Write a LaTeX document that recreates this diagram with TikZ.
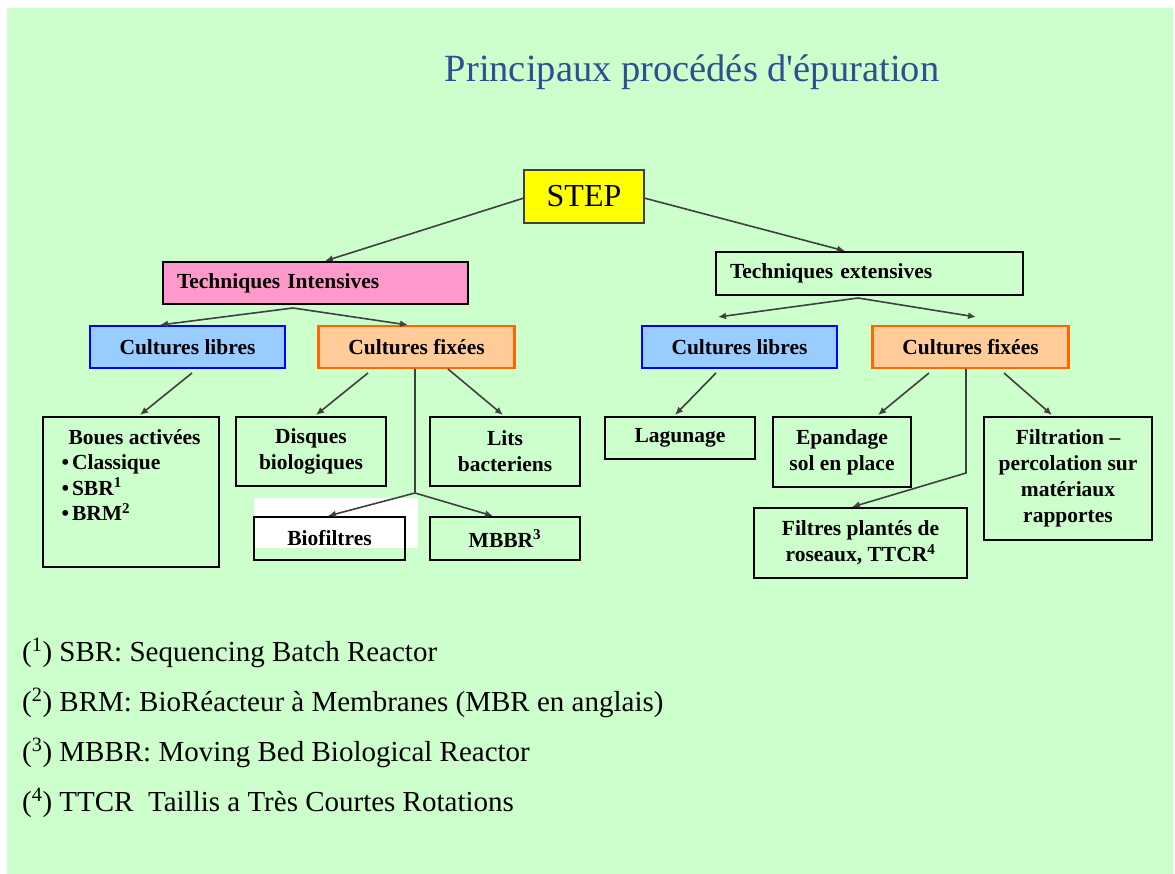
\documentclass[tikz,border=0pt]{standalone}
\usepackage{fontspec}
\setmainfont{Liberation Serif}
\usetikzlibrary{arrows.meta}
\definecolor{bggreen}{RGB}{204,255,204}
\definecolor{titleblue}{RGB}{47,79,143}
\definecolor{stepyellow}{RGB}{255,255,0}
\definecolor{pinkfill}{RGB}{255,153,204}
\definecolor{bluefill}{RGB}{153,204,255}
\definecolor{blueline}{RGB}{0,0,255}
\definecolor{orangefill}{RGB}{255,204,153}
\definecolor{orangeline}{RGB}{255,102,0}
\definecolor{arrowgray}{RGB}{64,64,64}
\newcommand\boxfont{\bfseries\fontsize{21.5}{26}\selectfont}
\newcommand\notefont{\fontsize{29}{34}\selectfont}
\tikzset{
  box/.style={draw=black, line width=2.5pt, inner sep=0pt, align=center, font=\boxfont},
  libresbox/.style={box, draw=blueline, fill=bluefill, minimum width=195pt, minimum height=42pt},
  fixeesbox/.style={box, draw=orangeline, fill=orangefill, minimum width=196pt, minimum height=42pt},
  conn/.style={draw=arrowgray, line width=1.6pt, -{Latex[length=8pt,width=7pt]}},
  connline/.style={draw=arrowgray, line width=1.6pt},
  note/.style={anchor=base west, inner sep=0pt, font=\notefont}
}
\begin{document}
\begin{tikzpicture}[x=1pt,y=-1pt]
\useasboundingbox (0,0) rectangle (1175,874);
\fill[white] (0,0) rectangle (1175,874);
\fill[bggreen] (7,8) rectangle (1173,874);

% title
\node[anchor=base, inner sep=0pt, text=titleblue, font=\fontsize{38.5}{44}\selectfont] (title) at (692,82) {Principaux procédés d\textquotesingle épuration};

% level 0
\node[draw=arrowgray, line width=2pt, fill=stepyellow, minimum width=120pt, minimum height=53pt, inner sep=0pt, font=\fontsize{32}{36}\selectfont] (step) at (584,196.5) {STEP};

% level 1
\node[box, fill=pinkfill, inner xsep=14pt, text width=277pt, align=left, minimum height=42pt] (ti) at (315.5,283) {Techniques Intensives};
\node[box, inner xsep=14pt, text width=279pt, align=left, minimum height=43pt] (te) at (869.5,273.5) {Techniques extensives};

% level 2
\node[libresbox] (cl1) at (187.5,347) {Cultures libres};
\node[fixeesbox] (cf1) at (416.5,347) {Cultures fixées};
\node[libresbox] (cl2) at (739.5,347) {Cultures libres};
\node[fixeesbox] (cf2) at (970.5,347) {Cultures fixées};

% level 3 left
\node[box, minimum width=176pt, minimum height=150pt] (boues) at (131,492) {};
\node[anchor=north, inner sep=0pt, align=left, font=\boxfont] (bouestxt) at (131,429)
  {\hspace*{7pt}Boues activées\\[-0.5pt]
   •\kern3pt Classique\\[-0.5pt]
   •\kern3pt SBR\textsuperscript{1}\\[-0.5pt]
   •\kern3pt BRM\textsuperscript{2}};
\node[box, minimum width=150pt, minimum height=69pt] (disq) at (311,451.5) {Disques\\biologiques};
\node[box, minimum width=150pt, minimum height=69pt] (lits) at (505,451.5) {Lits\\bacteriens};
\fill[white] (254,498) rectangle (418,548);
\node[box, minimum width=151pt, minimum height=43pt] (biof) at (329.5,538.5) {Biofiltres};
\node[box, minimum width=150pt, minimum height=43pt] (mbbr) at (505,538.5) {MBBR\textsuperscript{3}};

% level 3 right
\node[box, minimum width=150pt, minimum height=42pt] (lag) at (680,438) {Lagunage};
\node[box, minimum width=138pt, minimum height=70pt] (epa) at (842,452) {Epandage\\sol en place};
\node[box, minimum width=168pt, minimum height=123pt] (filt) at (1068,478.5) {Filtration –\\percolation sur\\matériaux\\rapportes};
\node[box, minimum width=213pt, minimum height=70pt] (fp) at (860.5,543) {Filtres plantés de\\roseaux, TTCR\textsuperscript{4}};

% connector coordinates
\coordinate (stepL) at (524,198);
\coordinate (stepR) at (644,198);
\coordinate (tiTip) at (325,261);
\coordinate (teTip) at (845,251);
\coordinate (tiApex) at (293,308);
\coordinate (cl1Tip) at (160,325);
\coordinate (cf1Tip) at (408,325);
\coordinate (teApex) at (858,298);
\coordinate (cl2Tip) at (718,317);
\coordinate (cf2Tip) at (976,317);
\coordinate (cl1Out) at (192,373);
\coordinate (bouesTip) at (140,415);
\coordinate (cf1OutA) at (368,373);
\coordinate (disqTip) at (316,415);
\coordinate (cf1OutB) at (415,369);
\coordinate (cf1Branch) at (415,493);
\coordinate (biofTip) at (328,516);
\coordinate (mbbrTip) at (493,516);
\coordinate (cf1OutC) at (448,369);
\coordinate (litsTip) at (503,415);
\coordinate (cl2Out) at (716,373);
\coordinate (lagTip) at (675,415);
\coordinate (cf2OutA) at (929,373);
\coordinate (epaTip) at (878,415);
\coordinate (cf2OutB) at (966,369);
\coordinate (cf2Bend) at (966,473);
\coordinate (fpTip) at (852,507);
\coordinate (cf2OutC) at (1004,373);
\coordinate (filtTip) at (1052,415);

% connectors
\draw[conn] (stepL) -- (tiTip);
\draw[conn] (stepR) -- (teTip);
\draw[conn] (tiApex) -- (cl1Tip);
\draw[conn] (tiApex) -- (cf1Tip);
\draw[conn] (teApex) -- (cl2Tip);
\draw[conn] (teApex) -- (cf2Tip);
\draw[conn] (cl1Out) -- (bouesTip);
\draw[conn] (cf1OutA) -- (disqTip);
\draw[conn] (cf1OutC) -- (litsTip);
\draw[connline] (cf1OutB) -- (cf1Branch);
\draw[conn] (cf1Branch) -- (biofTip);
\draw[conn] (cf1Branch) -- (mbbrTip);
\draw[conn] (cl2Out) -- (lagTip);
\draw[conn] (cf2OutA) -- (epaTip);
\draw[conn] (cf2OutB) -- (cf2Bend) -- (fpTip);
\draw[conn] (cf2OutC) -- (filtTip);

% footnotes
\node[note] (n1) at (22,661) {(\textsuperscript{1}) SBR: Sequencing Batch Reactor};
\node[note] (n2) at (22,711) {(\textsuperscript{2}) BRM:\ BioRéacteur à Membranes (MBR en anglais)};
\node[note] (n3) at (22,761) {(\textsuperscript{3}) MBBR:\ Moving Bed Biological Reactor};
\node[note] (n4) at (22,811) {(\textsuperscript{4}) TTCR\ \ Taillis a Très Courtes Rotations};
\end{tikzpicture}
\end{document}
